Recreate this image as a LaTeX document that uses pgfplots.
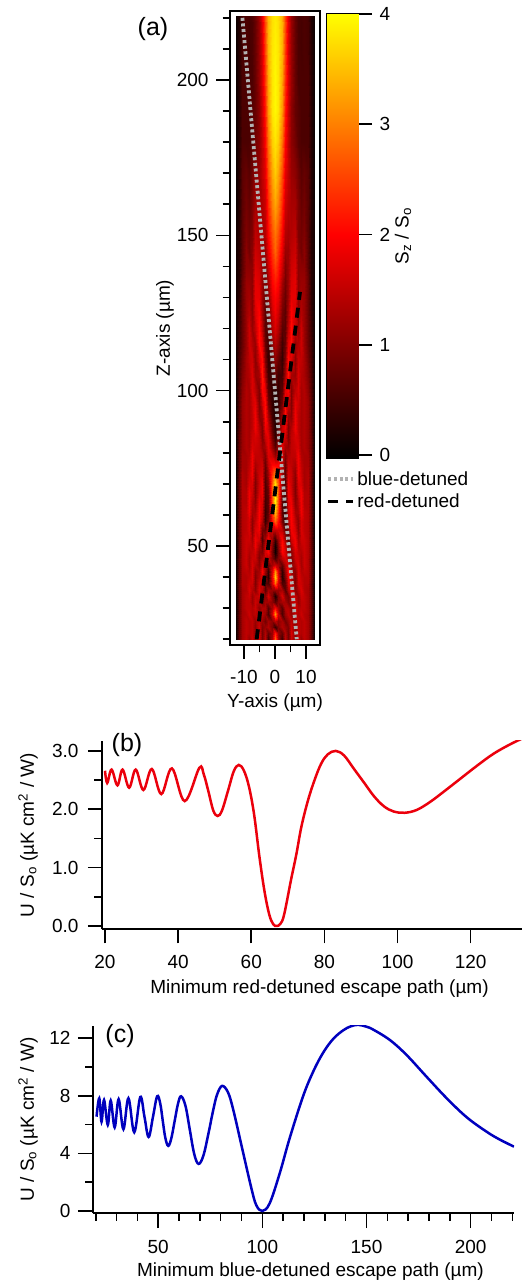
\documentclass[border=0pt]{standalone}
\usepackage{pgfplots}
\pgfplotsset{compat=1.18}
\usepackage{fontspec}
\setmainfont{Liberation Sans}
\definecolor{redc}{RGB}{235,0,12}
\definecolor{bluec}{RGB}{0,0,190}
\definecolor{graydot}{RGB}{178,178,178}
\pgfplotsset{
  colormap={hot}{rgb=(0,0,0) rgb=(1,0,0) rgb=(1,1,0)},
  common/.style={
    scale only axis, clip=true,
    /pgf/number format/assume math mode=true,
    tick align=outside,
    major tick length=14pt, minor tick length=7.5pt,
    tick style={black,line width=1.6pt},
    every minor tick/.style={black,line width=1.6pt},
    minor x tick style={black,line width=1.6pt},
    minor y tick style={black,line width=1.6pt},
    axis line style={line width=1.8pt},
    tick label style={font=\fontsize{19}{21}\selectfont},
    label style={font=\fontsize{19}{21}\selectfont},
    xticklabel style={yshift=-8pt},
  },
}
% half rows of the map: z, then values at |y| = 0, 1.05, ... 12.6
\gdef\heat{}
\newcommand\R[2]{%
  \gdef\rowL{}\gdef\rowR{}%
  \foreach \v [count=\i from 0] in {#2}{%
    \pgfmathsetmacro\xx{1.05*\i}%
    \ifnum\i=0 \xdef\rowR{(0,#1)[\v] }%
    \else \xdef\rowL{(-\xx,#1)[\v] \rowL}\xdef\rowR{\rowR(\xx,#1)[\v] }\fi}%
  \xdef\heat{\heat\rowL\rowR}}
\R{20}{2.8,1.3,.5,1.5,.9,1.6,1.1,1.6,1.2,1.5,1.3,.8,.15}
\R{22}{2.2,1.2,.8,1.4,.9,1.7,1.1,1.5,1.4,1.5,1.3,.8,.15}
\R{24}{.4,1.0,1.4,1.2,1,1.6,1.1,1.5,1.4,1.5,1.3,.8,.15}
\R{26}{1.5,1.1,1.3,.9,1.2,1.5,1.2,1.5,1.4,1.5,1.3,.8,.15}
\R{28}{3.2,1.6,.6,1.2,1.5,1.2,1.5,1.4,1.6,1.4,1.3,.8,.15}
\R{30}{2.0,1.3,.7,1.4,1.4,1.1,1.6,1.4,1.5,1.5,1.3,.8,.15}
\R{32}{.7,1.1,1.3,1.3,1,1.4,1.6,1.2,1.5,1.5,1.3,.8,.15}
\R{34}{.2,1.0,1.7,1.1,.9,1.6,1.5,1.2,1.6,1.5,1.3,.8,.15}
\R{36}{1.2,1.2,1.3,.7,1.4,1.7,1.1,1.4,1.7,1.4,1.3,.8,.15}
\R{38}{2.9,1.7,.6,.7,1.7,1.6,1,1.6,1.6,1.4,1.4,.8,.15}
\R{40}{3.6,1.9,.3,1,1.9,1.4,1,1.7,1.5,1.4,1.4,.8,.15}
\R{42}{3.1,1.7,.4,1.2,2,1.3,1.1,1.7,1.4,1.5,1.4,.8,.15}
\R{44}{1.6,1.3,.8,1.4,1.7,1.1,1.4,1.7,1.3,1.6,1.4,.8,.15}
\R{46}{.5,1,1.5,1.7,1.3,1,1.6,1.6,1.3,1.6,1.4,.8,.15}
\R{48}{.1,.9,2,1.7,1,1.1,1.7,1.5,1.4,1.6,1.4,.8,.15}
\R{50}{.1,1,2.1,1.6,.8,1.3,1.9,1.4,1.5,1.6,1.4,.8,.15}
\R{52}{.4,1.2,2,1.3,.6,1.6,1.9,1.3,1.6,1.6,1.4,.8,.15}
\R{55}{1.5,1.6,1.5,.8,.9,1.9,1.7,1.1,1.7,1.5,1.4,.8,.15}
\R{58}{2.8,2.1,.9,.4,1.4,2,1.5,1.1,1.7,1.5,1.4,.8,.15}
\R{61}{3.5,2.4,.7,.4,1.6,2,1.3,1.3,1.9,1.5,1.4,.8,.15}
\R{64}{3.9,2.6,.7,.5,1.7,1.9,1.1,1.4,1.9,1.4,1.4,.8,.15}
\R{67}{4,2.7,.8,.6,1.9,1.7,1,1.6,1.9,1.4,1.4,.8,.15}
\R{70}{3.8,2.7,1,.6,1.9,1.6,1,1.7,1.7,1.3,1.4,.8,.15}
\R{73}{3,2.4,1.2,.7,1.7,1.6,1.1,1.9,1.6,1.3,1.4,.8,.15}
\R{76}{2,2,1.5,.8,1.6,1.5,1.3,1.9,1.5,1.3,1.3,.8,.15}
\R{79}{1.2,1.6,1.7,1,1.4,1.5,1.5,1.9,1.4,1.3,1.3,.8,.15}
\R{82}{.7,1.2,1.8,1.3,1.2,1.5,1.6,1.7,1.3,1.4,1.2,.8,.15}
\R{85}{.4,.9,1.8,1.6,1,1.5,1.7,1.6,1.3,1.4,1.2,.8,.15}
\R{88}{.3,.7,1.6,1.9,1,1.4,1.9,1.5,1.3,1.4,1.2,.7,.15}
\R{92}{.25,.5,1.3,2.1,1.2,1.1,1.9,1.5,1.3,1.4,1.2,.7,.15}
\R{96}{.25,.4,.9,2.1,1.6,1,1.8,1.6,1.3,1.4,1.2,.7,.15}
\R{100}{.3,.4,.7,1.8,2,1,1.5,1.7,1.3,1.4,1.1,.65,.15}
\R{105}{.8,.5,.5,1.3,2.2,1.3,1.2,1.7,1.4,1.3,1,.6,.15}
\R{110}{1.1,.8,.4,1,2.1,1.7,1.1,1.6,1.5,1.3,.9,.55,.15}
\R{115}{1.4,1.1,.5,.8,1.8,2.1,1.2,1.4,1.6,1.2,.8,.5,.15}
\R{120}{1.7,1.4,.7,.7,1.5,2.1,1.5,1.2,1.6,1.2,.8,.45,.15}
\R{125}{1.9,1.6,.9,.7,1.3,2,1.7,1.1,1.4,1.2,.8,.4,.15}
\R{130}{2,1.8,1.1,.8,1.2,1.8,1.8,1.1,1.3,1.2,.8,.35,.15}
\R{135}{2.2,2,1.3,.9,1.2,1.7,1.8,1.1,1.2,1.2,.8,.3,.15}
\R{140}{2.5,2.2,1.6,1,1.2,1.6,1.7,1.1,1.1,1.1,.7,.3,.15}
\R{145}{2.8,2.4,1.8,1.2,1.2,1.5,1.6,1.1,.9,1.1,.7,.3,.15}
\R{150}{2.9,2.6,2,1.4,1.3,1.4,1.5,1,.9,1,.7,.3,.15}
\R{160}{3.3,3,2.3,1.6,1.4,1.3,1.3,1,.8,.9,.7,.3,.1}
\R{170}{3.6,3.3,2.6,1.8,1.5,1.2,1.1,.9,.7,.8,.7,.3,.1}
\R{180}{3.8,3.6,2.9,2,1.5,1.1,.9,.7,.6,.6,.6,.3,.1}
\R{190}{3.95,3.8,3.2,2.2,1.6,1.1,.8,.7,.6,.6,.6,.3,.1}
\R{200}{3.95,3.8,3.3,2.4,1.7,1.2,.8,.6,.6,.6,.6,.3,.1}
\R{210}{3.9,3.8,3.4,2.5,1.7,1.2,.8,.6,.55,.6,.55,.3,.1}
\R{220.6}{3.85,3.75,3.4,2.6,1.8,1.2,.8,.6,.55,.6,.55,.25,.1}
\begin{document}
\begin{tikzpicture}[x=1pt,y=1pt]
\useasboundingbox (0,0) rectangle (522,1285);
% (a) map
\begin{axis}[common, at={(230pt,640pt)}, anchor=south west, width=90pt, height=634pt,
  xmin=-14.5, xmax=14.5, ymin=18.14, ymax=222.2,
  xtick={-10,0,10}, minor xtick={-5,5},
  ytick={50,100,150,200}, minor ytick={20,30,40,60,70,80,90,110,120,130,140,160,170,180,190,210,220},
  xtick pos=bottom, ytick pos=left,
  yticklabel style={xshift=-4pt},
  xlabel={Y-axis (µm)}, ylabel={Z-axis (µm)},
  xlabel style={at={(axis description cs:0.5,0)},anchor=center,yshift=-58pt},
  ylabel style={at={(axis description cs:0,0.5)},anchor=center,yshift=65pt},
  point meta min=0, point meta max=4,
  legend style={at={(axis description cs:1.07,0.277)},anchor=north west,draw=none,fill=none,
    font=\fontsize{19}{21}\selectfont,row sep=3pt,inner xsep=0pt,inner ysep=0pt},
  legend cell align=left,
  legend image code/.code={\draw[#1] (0,0) -- (25pt,0);},
]
\edef\temp{\noexpand\addplot[surf,shader=interp,mesh/cols=25,mesh/ordering=x varies,point meta=explicit,forget plot] coordinates {\heat};}
\temp
\addplot[graydot,line width=3.8pt,dash pattern=on 3pt off 2.6pt] coordinates {(-10.5,220)(7,20)};
\addlegendentry{blue-detuned}
\addplot[black,line width=3.8pt,dash pattern=on 10pt off 8pt] coordinates {(-5.9,20)(8.06,131.8)};
\addlegendentry{red-detuned}
\end{axis}
% colour bar
\begin{axis}[common, at={(327pt,827pt)}, anchor=south west, width=31pt, height=444pt,
  xmin=0, xmax=1, ymin=-0.027, ymax=4,
  xtick=\empty, ytick={0,1,2,3,4}, ytick pos=right,
  yticklabel style={xshift=4pt},
  ylabel={S\textsubscript{z} / S\textsubscript{o}},
  ylabel style={at={(axis description cs:1,0.5)},anchor=center,yshift=-45pt},
  point meta min=0, point meta max=4,
]
\addplot[surf,shader=interp,mesh/cols=2,mesh/ordering=x varies,point meta=explicit] coordinates {
(0,-0.027)[0] (1,-0.027)[0]
(0,2)[2] (1,2)[2]
(0,4)[4] (1,4)[4]
};
\end{axis}
% (b)
\begin{axis}[common, at={(102pt,355.7pt)}, anchor=south west, width=420pt, height=188.3pt,
  axis x line=bottom, axis y line=left, axis line style={-,line width=1.8pt}, tick align=outside,
  xmin=19.18, xmax=134.03, ymin=-0.057, ymax=3.17,
  xtick={20,40,60,80,100,120}, ytick={0,1,2,3}, minor ytick={0.5,1.5,2.5},
  yticklabel style={xshift=-6pt,/pgf/number format/fixed,/pgf/number format/fixed zerofill,/pgf/number format/precision=1},
  xlabel={Minimum red-detuned escape path (µm)},
  ylabel={U / S\textsubscript{o} (µK cm\textsuperscript{2} / W)},
  xlabel style={at={(axis description cs:0.5,0)},anchor=center,yshift=-59pt,xshift=7.5pt},
  ylabel style={at={(axis description cs:0,0.5)},anchor=center,yshift=74pt},
]
\addplot[redc,line width=2.5pt,smooth,tension=0.6] coordinates {
(20,2.66)(20.6,2.45)(21.8,2.68)(23.4,2.41)(24.8,2.68)(26.6,2.37)(28.4,2.68)(30.5,2.33)
(32.8,2.69)(35.4,2.26)(38.3,2.70)(41.8,2.14)(45.8,2.71)(47,2.6)(48.3,2.3)(49.6,1.98)(50.8,1.885)(52,1.98)(53.7,2.33)(55.2,2.65)(56.6,2.76)
(58,2.66)(59.4,2.38)(60.8,1.9)(62.2,1.2)(63.6,0.6)(64.9,0.2)(66,0.03)(67,0)(68,0.04)(69,0.2)(70.9,0.8)
(72.3,1.22)(73.7,1.7)(75.5,2.15)(77.3,2.5)(79.1,2.78)(80.9,2.94)(83.1,3.0)(85.4,2.92)(88.1,2.69)
(90.8,2.46)(93.6,2.22)(96.3,2.05)(99,1.96)(102,1.94)(105.3,1.99)(109,2.13)(112.6,2.30)(117.1,2.52)
(121.6,2.74)(126.2,2.95)(130.7,3.11)(134,3.21)
};
\end{axis}
% (c)
\begin{axis}[common, at={(93pt,72pt)}, anchor=south west, width=421pt, height=187pt,
  axis x line=bottom, axis y line=left, axis line style={-,line width=1.8pt}, tick align=outside,
  major tick length=15pt,
  xmin=18.7, xmax=220.8, ymin=-0.14, ymax=12.85,
  xtick={50,100,150,200}, minor xtick={20,30,40,60,70,80,90,110,120,130,140,160,170,180,190,210,220},
  ytick={0,4,8,12}, minor ytick={2,6,10},
  xticklabel style={yshift=-1pt},
  yticklabel style={xshift=-4pt},
  xlabel={Minimum blue-detuned escape path (µm)},
  ylabel={U / S\textsubscript{o} (µK cm\textsuperscript{2} / W)},
  xlabel style={at={(axis description cs:0.5,0)},anchor=center,yshift=-59pt,xshift=7pt},
  ylabel style={at={(axis description cs:0,0.5)},anchor=center,yshift=65pt},
]
\addplot[bluec,line width=2.5pt,smooth,tension=0.6] coordinates {
(20.4,6.55)(21.7,7.83)(22.8,6.2)(24,7.71)(25.8,5.98)(27.2,7.67)(29.1,5.81)(31,7.76)(33.3,5.68)
(35.7,7.83)(38.5,5.47)(41.4,7.92)(43.4,6.55)(45.4,5.14)(47.5,6.55)(49.5,7.97)(51,7.45)(52.2,6.25)(53.4,5.1)(54.8,4.52)(56.3,5.05)(57.9,6.25)(59.5,7.45)(61,7.97)(63.1,7.3)(65.2,5.62)(67.3,3.95)(69.4,3.27)
(71.7,3.85)(74.0,5.3)(76.4,7.0)(78.3,8.1)(80.7,8.69)(83.5,8.24)(86,7.05)(90.3,4.35)(94.7,1.6)(97.1,0.4)(100,0)
(103.5,0.53)(108.3,2.6)(113.1,5.05)(119.5,7.95)(124.4,9.68)(129.2,11.0)(134,11.95)(138.8,12.55)(142.5,12.83)(146,12.93)(150,12.8)
(153.2,12.6)(161.2,11.88)(169.2,10.84)(178.8,9.33)(188.5,7.83)(198.1,6.51)(207.7,5.5)(214.1,4.95)(220.8,4.47)
};
\end{axis}
\node[font=\fontsize{25}{27}\selectfont,anchor=center] at (153,1256) {(a)};
\node[font=\fontsize{25}{27}\selectfont,anchor=center] at (127,540) {(b)};
\node[font=\fontsize{25}{27}\selectfont,anchor=center] at (120,249) {(c)};
\end{tikzpicture}
\end{document}
